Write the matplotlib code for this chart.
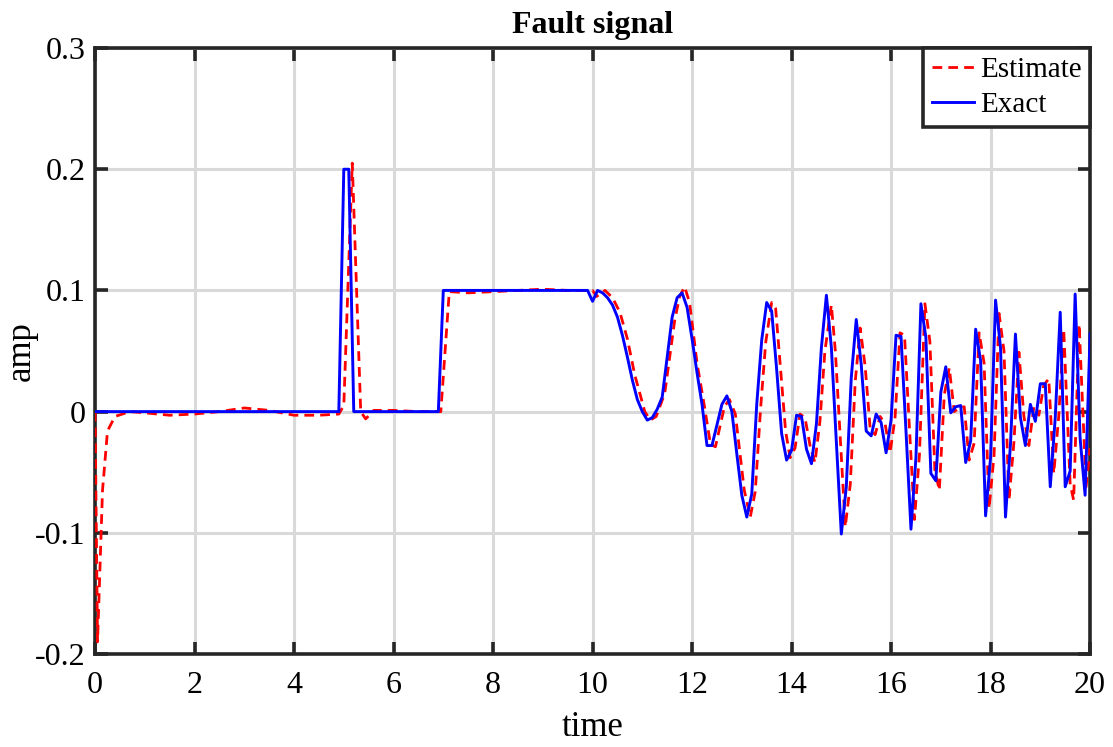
import matplotlib
matplotlib.use("Agg")
import matplotlib.pyplot as plt

# === Data ===
exact_t = [0.0, 4.9, 5.0, 5.1, 5.2, 6.9, 7.0, 9.9,
           10.0, 10.1, 10.2, 10.3, 10.4, 10.5, 10.6, 10.7, 10.8, 10.9,
           11.0, 11.1, 11.2, 11.3, 11.4, 11.5, 11.6, 11.7, 11.8, 11.9,
           12.0, 12.1, 12.2, 12.3, 12.4, 12.5, 12.6, 12.7, 12.8, 12.9,
           13.0, 13.1, 13.2, 13.3, 13.4, 13.5, 13.6, 13.7, 13.8, 13.9,
           14.0, 14.1, 14.2, 14.3, 14.4, 14.5, 14.6, 14.7, 14.8, 14.9,
           15.0, 15.1, 15.2, 15.3, 15.4, 15.5, 15.6, 15.7, 15.8, 15.9,
           16.0, 16.1, 16.2, 16.3, 16.4, 16.5, 16.6, 16.7, 16.8, 16.9,
           17.0, 17.1, 17.2, 17.3, 17.4, 17.5, 17.6, 17.7, 17.8, 17.9,
           18.0, 18.1, 18.2, 18.3, 18.4, 18.5, 18.6, 18.7, 18.8, 18.9,
           19.0, 19.1, 19.2, 19.3, 19.4, 19.5, 19.6, 19.7, 19.8, 19.9, 20.0]
exact_y = [0.0, 0.0, 0.2, 0.2, 0.0, 0.0, 0.1, 0.1,
           0.091, 0.100, 0.098, 0.094, 0.088, 0.078, 0.063, 0.045, 0.026, 0.010,
           0.000, -0.007, -0.005, 0.002, 0.012, 0.045, 0.078, 0.094, 0.098, 0.086,
           0.060, 0.032, 0.006, -0.028, -0.028, -0.011, 0.006, 0.013, 0.000, -0.035,
           -0.069, -0.087, -0.068, 0.006, 0.059, 0.090, 0.083, 0.035, -0.018, -0.040,
           -0.032, -0.003, -0.004, -0.031, -0.043, -0.010, 0.053, 0.096, 0.053, -0.025,
           -0.101, -0.062, 0.028, 0.076, 0.039, -0.016, -0.020, -0.002, -0.009, -0.034,
           -0.007, 0.063, 0.062, -0.016, -0.097, -0.038, 0.089, 0.061, -0.051, -0.057,
           0.016, 0.037, -0.001, 0.004, 0.005, -0.042, -0.024, 0.068, 0.042, -0.086,
           -0.038, 0.092, 0.053, -0.087, -0.027, 0.064, -0.005, -0.028, 0.006, -0.008,
           0.023, 0.023, -0.062, -0.005, 0.082, -0.062, -0.049, 0.097, -0.022, -0.069, 0.064]

est_t = [0.0, 0.05, 0.15, 0.25, 0.4, 0.7, 1.0, 1.5, 2.0, 2.5, 3.0, 3.5, 4.0, 4.5, 4.9,
         5.0, 5.17, 5.34, 5.44, 5.6, 6.0, 6.5, 6.95, 7.12, 7.5, 8.0, 8.5, 9.0, 9.5,
         10.0, 10.08, 10.25, 10.4, 10.55, 10.7, 10.85, 11.05, 11.16, 11.28, 11.45,
         11.65, 11.75, 11.85, 11.95, 12.1, 12.25, 12.37, 12.47, 12.65, 12.75, 12.87,
         13.05, 13.17, 13.27, 13.38, 13.48, 13.6, 13.68, 13.88, 13.97, 14.07, 14.17,
         14.27, 14.38, 14.47, 14.57, 14.67, 14.8, 14.88, 15.08, 15.18, 15.28, 15.38,
         15.48, 15.58, 15.68, 15.78, 15.88, 15.98, 16.08, 16.18, 16.27, 16.37, 16.47,
         16.57, 16.68, 16.78, 16.88, 16.97, 17.07, 17.17, 17.27, 17.37, 17.47, 17.57,
         17.67, 17.77, 17.87, 17.97, 18.07, 18.17, 18.27, 18.37, 18.47, 18.57, 18.67,
         18.77, 18.87, 18.97, 19.07, 19.17, 19.27, 19.37, 19.47, 19.6, 19.67, 19.78,
         19.92, 20.0]
est_y = [0.0, -0.19, -0.065, -0.016, -0.004, 0.0, -0.001, -0.003, -0.002, 0.0, 0.003,
         0.001, -0.003, -0.003, -0.002,
         0.005, 0.205, 0.0, -0.006, 0.001, 0.001, 0.0, 0.0, 0.099, 0.098, 0.099, 0.100,
         0.101, 0.100,
         0.100, 0.095, 0.100, 0.094, 0.082, 0.060, 0.030, 0.000, -0.007, -0.004, 0.015,
         0.075, 0.095, 0.103, 0.090, 0.040, 0.004, -0.027, -0.029, 0.004, 0.010, -0.002,
         -0.065, -0.087, -0.066, 0.004, 0.057, 0.090, 0.085, -0.016, -0.038, -0.030, -0.002,
         -0.005, -0.030, -0.042, -0.008, 0.050, 0.088, 0.050, -0.095, -0.060, 0.025, 0.069,
         0.037, -0.014, -0.019, -0.004, -0.010, -0.034, -0.005, 0.065, 0.063, -0.014, -0.089,
         -0.036, 0.089, 0.058, -0.048, -0.065, 0.014, 0.036, 0.000, 0.003, 0.004, -0.040,
         -0.026, 0.065, 0.040, -0.080, -0.036, 0.081, 0.050, -0.073, -0.025, 0.049, -0.004,
         -0.028, 0.004, -0.003, 0.022, 0.027, -0.051, -0.004, 0.068, -0.060, -0.073, 0.072,
         -0.062, -0.030]

xticks = [0, 2, 4, 6, 8, 10, 12, 14, 16, 18, 20]
yticks = [-0.2, -0.1, 0, 0.1, 0.2, 0.3]
ytick_labels = ["-0.2", "-0.1", "0", "0.1", "0.2", "0.3"]

plt.rcParams['font.family'] = ['Liberation Serif', 'DejaVu Serif']

fig = plt.figure(figsize=(11.13, 7.47), dpi=100)
ax = fig.add_axes([0.0854, 0.1245, 0.8940, 0.8112])

# === Curves ===
ax.plot(est_t, est_y, color='red', linestyle='--', linewidth=2.0,
        dashes=(3.5, 2.2), label='Estimate', zorder=3)
ax.plot(exact_t, exact_y, color='blue', linestyle='-', linewidth=2.1,
        label='Exact', zorder=4)

# === Axes styling (MATLAB look) ===
ax.set_xlim(0, 20)
ax.set_ylim(-0.2, 0.3)
ax.set_xticks(xticks)
ax.set_yticks(yticks)
ax.set_yticklabels(ytick_labels)
ax.grid(True, color='#d9d9d9', linewidth=2.2)
ax.set_axisbelow(True)

for s in ax.spines.values():
    s.set_linewidth(2.6)
    s.set_color('#262626')
ax.tick_params(direction='in', length=9, width=2.6, color='#262626',
               top=True, right=True, labelsize=23)
ax.tick_params(axis='x', pad=12)
ax.tick_params(axis='y', pad=7)

ax.set_title('Fault signal', fontsize=23, fontweight='bold', pad=11)
ax.set_xlabel('time', fontsize=25, labelpad=8)
ax.set_ylabel('amp', fontsize=25)
ax.yaxis.set_label_coords(-0.058, 0.5)

leg = ax.legend(loc='upper right', fontsize=21, frameon=True, fancybox=False,
                borderaxespad=0.0, handlelength=1.45, handletextpad=0.2,
                borderpad=0.3, labelspacing=0.3)
leg.get_frame().set_edgecolor('#262626')
leg.get_frame().set_linewidth(2.6)
leg.get_frame().set_alpha(1.0)

plt.savefig('out.png', dpi=100)
